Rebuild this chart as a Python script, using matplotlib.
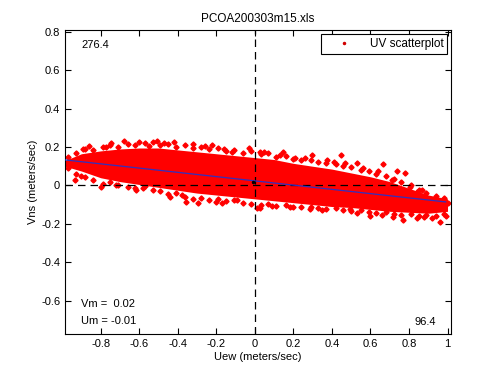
import numpy as np
import matplotlib
matplotlib.use("Agg")
import matplotlib.pyplot as plt

plt.rcParams['font.family'] = ['Liberation Sans', 'DejaVu Sans']

# dense core of the UV cloud
core_x = [-0.985, -0.9, -0.8, -0.7, -0.6, -0.5, -0.4, -0.3, -0.2, -0.1, 0.0,
          0.1, 0.2, 0.3, 0.4, 0.5, 0.6, 0.7, 0.8, 0.9, 1.0]
core_hi = [0.13, 0.165, 0.18, 0.19, 0.195, 0.195, 0.185, 0.175, 0.165, 0.155, 0.145,
           0.135, 0.115, 0.1, 0.085, 0.065, 0.045, 0.02, -0.015, -0.05, -0.07]
core_lo = [0.10, 0.075, 0.04, 0.02, 0.005, -0.01, -0.025, -0.04, -0.05, -0.06, -0.07,
           -0.08, -0.09, -0.1, -0.11, -0.115, -0.125, -0.135, -0.14, -0.145, -0.135]

# ragged edge points
edge_x = [-0.97, -0.93, -0.88, -0.84, -0.79, -0.75, -0.71, -0.66, -0.62, -0.57, -0.53, -0.49,
          -0.45, -0.41, -0.36, -0.32, -0.28, -0.24, -0.19, -0.15, -0.11, -0.06, -0.02, 0.03,
          0.07, 0.11, 0.16, 0.2, 0.24, 0.29, 0.33, 0.37, 0.42, 0.46, 0.5, 0.55, 0.59, 0.63,
          0.68, 0.72, 0.76, 0.81, 0.85, 0.89, 0.94, 0.98]
edge_hi = [0.15, 0.17, 0.19, 0.185, 0.2, 0.21, 0.2, 0.215, 0.21, 0.22, 0.225, 0.21,
           0.215, 0.2, 0.21, 0.195, 0.2, 0.19, 0.195, 0.18, 0.185, 0.17, 0.18, 0.165,
           0.17, 0.15, 0.155, 0.14, 0.13, 0.135, 0.12, 0.115, 0.11, 0.1, 0.095, 0.08, 0.075, 0.06,
           0.05, 0.035, 0.02, 0.0, -0.025, -0.04, -0.055, -0.065]
edge_lo = [0.09, 0.06, 0.045, 0.03, 0.01, 0.02, 0.0, -0.01, -0.015, -0.005, -0.025, -0.03,
           -0.045, -0.04, -0.06, -0.07, -0.065, -0.075, -0.07, -0.08, -0.075, -0.09, -0.095, -0.1,
           -0.095, -0.105, -0.1, -0.11, -0.115, -0.11, -0.12, -0.125, -0.12, -0.13, -0.135, -0.13,
           -0.14, -0.145, -0.14, -0.15, -0.155, -0.15, -0.16, -0.155, -0.16, -0.15]

# scattered outliers
out_x = [-0.51, -0.745, -0.89, -0.32, -0.22, -0.12, -0.03, -0.935, -0.80, -0.615, -0.44, -0.355,
         -0.295, -0.2, -0.095, 0.01, 0.026, 0.147, 0.208, 0.295, 0.373, 0.446, 0.468, 0.529,
         0.667, 0.737, 0.779, 0.71, 0.805, 0.84, 0.866, 0.026, 0.182, 0.286, 0.494, 0.719,
         0.771, 0.84, 0.961, -0.6, -0.68, -0.42, 0.6, 0.92, 1.0, 0.99,
         -0.86, -0.77, -0.55, -0.47, -0.26, -0.16, 0.05, 0.13, 0.26, 0.41, 0.56, 0.64,
         -0.9, -0.72, -0.58, -0.38, -0.17, 0.09, 0.35, 0.53, 0.66, 0.88]
out_y = [0.232, 0.22, 0.19, 0.216, 0.21, 0.176, 0.194, 0.029, -0.006, -0.023, -0.058, -0.084,
         -0.093, -0.084, -0.076, -0.119, 0.176, 0.176, 0.142, 0.159, 0.133, 0.159, 0.116, 0.116,
         0.11, 0.077, 0.063, 0.029, -0.006, -0.032, -0.023, -0.119, -0.11, -0.124, -0.124, -0.163,
         -0.18, -0.171, -0.189, 0.225, 0.23, 0.225, -0.16, -0.17, -0.09, -0.16,
         0.205, 0.2, 0.205, 0.22, 0.205, 0.19, 0.175, 0.16, 0.145, 0.12, 0.09, 0.075,
         0.05, 0.0, -0.015, -0.05, -0.09, -0.105, -0.13, -0.145, -0.155, -0.165]

fit_x = [-0.985, 0.99]
fit_y = [0.133, -0.086]
mean_u, mean_v = -0.01, 0.02

fig = plt.figure(figsize=(5, 3.75), dpi=100)
ax = fig.add_axes([0.13, 0.109, 0.772, 0.811])

red = '#ff0000'
ax.fill_between(core_x, core_lo, core_hi, color=red, lw=0, zorder=2)
ax.plot(edge_x, edge_hi, 'D', color=red, ms=2.6, ls='none', zorder=2)
ax.plot(edge_x, edge_lo, 'D', color=red, ms=2.6, ls='none', zorder=2)
ax.plot(out_x, out_y, 'D', color=red, ms=2.6, ls='none', zorder=2)
ax.plot([], [], '.', color='#d00000', ms=3, label='UV scatterplot')

ax.axhline(0, color='black', ls=(0, (6, 4)), lw=0.9, zorder=3)
ax.axvline(0, color='black', ls=(0, (6, 4)), lw=0.9, zorder=3)
ax.plot(fit_x, fit_y, color='#3030c0', lw=0.9, zorder=4)
ax.plot([mean_u], [mean_v], '.', color='black', ms=3, zorder=5)

ax.set_xlim(-0.985, 1.018)
ax.set_ylim(-0.775, 0.81)
ax.set_xticks(np.arange(-0.8, 1.01, 0.2))
ax.set_xticklabels(['-0.8', '-0.6', '-0.4', '-0.2', '0', '0.2', '0.4', '0.6', '0.8', '1'])
ax.set_yticks(np.arange(-0.6, 0.81, 0.2))
ax.set_yticklabels(['-0.6', '-0.4', '-0.2', '0', '0.2', '0.4', '0.6', '0.8'])
ax.tick_params(direction='in', top=True, right=True, labelsize=8, length=4, width=0.8)
for s in ax.spines.values():
    s.set_linewidth(0.8)

ax.set_xlabel('Uew (meters/sec)', fontsize=8, labelpad=2)
ax.set_ylabel('Vns (meters/sec)', fontsize=8, labelpad=2)
ax.set_title('PCOA200303m15.xls', fontsize=8.5, pad=6)

ax.text(-0.9, 0.73, '276.4', fontsize=8, va='center')
ax.text(0.83, -0.71, '96.4', fontsize=8, va='center')
ax.text(-0.9, -0.62, 'Vm =  0.02', fontsize=8, va='center')
ax.text(-0.9, -0.705, 'Um = -0.01', fontsize=8, va='center')

leg = ax.legend(loc='upper right', fontsize=8.5, fancybox=False, framealpha=1,
                edgecolor='black', borderaxespad=0.3, handlelength=3.2,
                handletextpad=0.6, borderpad=0.35)
leg.get_frame().set_linewidth(0.8)

fig.savefig('out.png', dpi=100)
